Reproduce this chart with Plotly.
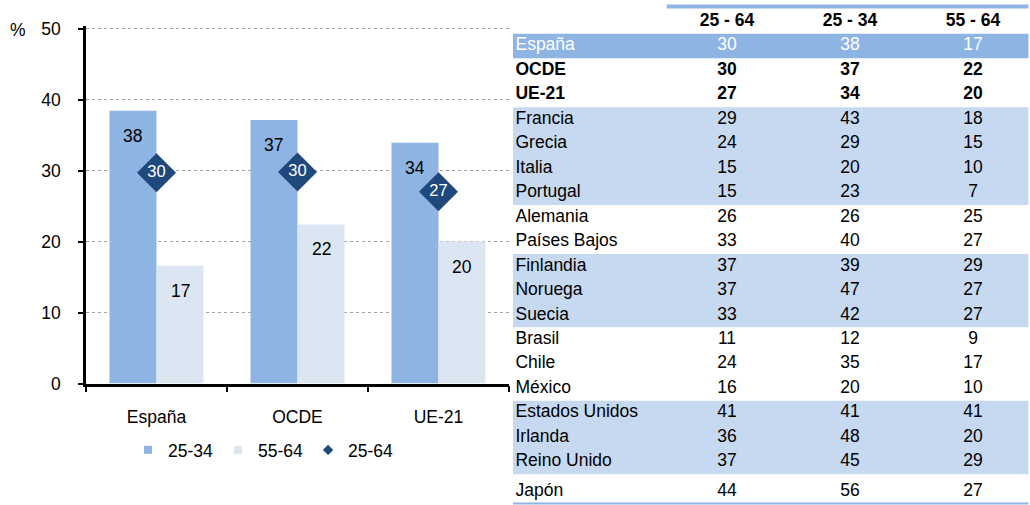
import plotly.graph_objects as go

# ---------------- data ----------------
chart_cats = ["España", "OCDE", "UE-21"]
bar_2534 = [38.4, 37.1, 33.9]
bar_5564 = [16.6, 22.4, 20.0]
dia_2564 = [29.7, 29.8, 27.0]

table_cols = ["25 - 64", "25 - 34", "55 - 64"]
countries = ["España", "OCDE", "UE-21", "Francia", "Grecia", "Italia", "Portugal",
             "Alemania", "Países Bajos", "Finlandia", "Noruega", "Suecia",
             "Brasil", "Chile", "México", "Estados Unidos", "Irlanda",
             "Reino Unido", "Japón"]
t_2564 = [30, 30, 27, 29, 24, 15, 15, 26, 33, 37, 37, 33, 11, 24, 16, 41, 36, 37, 44]
t_2534 = [38, 37, 34, 43, 29, 20, 23, 26, 40, 39, 47, 42, 12, 35, 20, 41, 48, 45, 56]
t_5564 = [17, 22, 20, 18, 15, 10, 7, 25, 27, 29, 27, 27, 9, 17, 10, 41, 20, 29, 27]

highlight_row = "España"
bold_rows = ["OCDE", "UE-21"]
shaded_groups = [["Francia", "Grecia", "Italia", "Portugal"],
                 ["Finlandia", "Noruega", "Suecia"],
                 ["Estados Unidos", "Irlanda", "Reino Unido"]]

# ---------------- style ----------------
W, H = 1030, 505
FONT = "Liberation Sans, Arial, sans-serif"
FS = 17.5
C_2534 = "#8DB4E2"
C_5564 = "#DCE6F2"
C_DIA = "#1F497D"
C_BAND = "#C6D9F1"
C_HI = "#8EB4E3"
Y_MAX = 50.3
PX_PER_UNIT = 7.1
Y_BOTTOM_PX = 383.5
Y_TOP_PX = Y_BOTTOM_PX - Y_MAX * PX_PER_UNIT

fig = go.Figure()

# bars
fig.add_trace(go.Bar(x=chart_cats, y=bar_2534, name="25-34", marker_color=C_2534,
                     marker_line_width=0, showlegend=False, xaxis="x", yaxis="y"))
fig.add_trace(go.Bar(x=chart_cats, y=bar_5564, name="55-64", marker_color=C_5564,
                     marker_line_width=0, showlegend=False, xaxis="x", yaxis="y"))
# diamonds
fig.add_trace(go.Scatter(x=chart_cats, y=dia_2564, name="25-64", mode="markers+text",
                         marker=dict(symbol="diamond", size=30, color=C_DIA),
                         text=[f"{v:.0f}" for v in dia_2564], textposition="middle center",
                         textfont=dict(color="white", size=16.5, family=FONT),
                         showlegend=False, xaxis="x", yaxis="y", cliponaxis=False))

# legend-only entries (small symbols)
fig.add_trace(go.Scatter(x=[None], y=[None], mode="markers", name="25-34",
                         marker=dict(symbol="square", size=8, color=C_2534)))
fig.add_trace(go.Scatter(x=[None], y=[None], mode="markers", name="55-64",
                         marker=dict(symbol="square", size=8, color=C_5564)))
fig.add_trace(go.Scatter(x=[None], y=[None], mode="markers", name="25-64",
                         marker=dict(symbol="diamond", size=8, color=C_DIA)))

annotations = []
bar_half = 141 * (1 - 0.333) / 4
for c, v in zip(chart_cats, bar_2534):
    annotations.append(dict(x=c, y=v, xref="x", yref="y", text=f"{v:.0f}", showarrow=False,
                            xshift=-bar_half, yshift=-25, font=dict(size=FS, color="black")))
for c, v in zip(chart_cats, bar_5564):
    annotations.append(dict(x=c, y=v, xref="x", yref="y", text=f"{v:.0f}", showarrow=False,
                            xshift=bar_half, yshift=-25, font=dict(size=FS, color="black")))
annotations.append(dict(x=18 / W, y=(H - 30) / H, xref="paper", yref="paper", text="%",
                        showarrow=False, xanchor="center", yanchor="middle",
                        font=dict(size=FS, color="black")))

# ---------------- table ----------------
row_pos = [i + (0.2 if c == "Japón" else 0) for i, c in enumerate(countries)]
col_x = [1, 2, 3]


def fmt(name, v):
    return f"<b>{v}</b>" if name in bold_rows else f"{v}"


def colors():
    return ["white" if c == highlight_row else "black" for c in countries]


# header
fig.add_trace(go.Scatter(x=col_x, y=[-1] * 3, mode="text",
                         text=[f"<b>{t}</b>" for t in table_cols], textposition="middle center",
                         textfont=dict(size=FS, color="black", family=FONT),
                         xaxis="x2", yaxis="y2", showlegend=False, cliponaxis=False))
# row labels
fig.add_trace(go.Scatter(x=[-0.72] * len(countries), y=row_pos, mode="text",
                         text=[fmt(c, c) for c in countries], textposition="middle right",
                         textfont=dict(size=FS, color=colors(), family=FONT),
                         xaxis="x2", yaxis="y2", showlegend=False, cliponaxis=False))
for xc, vals in zip(col_x, [t_2564, t_2534, t_5564]):
    fig.add_trace(go.Scatter(x=[xc] * len(vals), y=row_pos, mode="text",
                             text=[fmt(c, v) for c, v in zip(countries, vals)],
                             textposition="middle center",
                             textfont=dict(size=FS, color=colors(), family=FONT),
                             xaxis="x2", yaxis="y2", showlegend=False, cliponaxis=False))

shapes = []
# highlighted row
i_hi = countries.index(highlight_row)
shapes.append(dict(type="rect", xref="x2 domain", yref="y2", x0=0, x1=0.997,
                   y0=row_pos[i_hi] - 0.5, y1=row_pos[i_hi] + 0.5,
                   fillcolor=C_HI, line_width=0, layer="below"))
for grp in shaded_groups:
    idx = [countries.index(c) for c in grp]
    shapes.append(dict(type="rect", xref="x2 domain", yref="y2", x0=0, x1=0.997,
                       y0=row_pos[min(idx)] - 0.5, y1=row_pos[max(idx)] + 0.5,
                       fillcolor=C_BAND, line_width=0, layer="below"))
# header top line
shapes.append(dict(type="line", xref="x2", yref="y2", x0=0.51, x1=3.45, y0=-1.61, y1=-1.61,
                   line=dict(color=C_HI, width=4)))
# bottom line
shapes.append(dict(type="line", xref="x2 domain", yref="y2", x0=0, x1=0.997,
                   y0=row_pos[-1] + 0.5, y1=row_pos[-1] + 0.5,
                   line=dict(color=C_HI, width=2)))

fig.update_layout(
    width=W, height=H,
    margin=dict(l=0, r=0, t=0, b=0, pad=0, autoexpand=False),
    paper_bgcolor="white", plot_bgcolor="rgba(0,0,0,0)",
    font=dict(family=FONT, size=FS, color="black"),
    barmode="group", bargap=0.333, bargroupgap=0,
    xaxis=dict(domain=[86 / W, 509 / W], type="category", range=[-0.5, 2.5],
               showline=True, linecolor="black", linewidth=2.5, automargin=False,
               ticks="outside", tickson="boundaries", ticklen=6, tickwidth=2, tickcolor="black",
               showgrid=False, tickfont=dict(size=FS), ticklabelstandoff=16, anchor="y"),
    yaxis=dict(domain=[(H - Y_BOTTOM_PX) / H, (H - Y_TOP_PX) / H], range=[0, Y_MAX],
               tick0=0, dtick=10,
               showline=True, linecolor="black", linewidth=2.5, automargin=False,
               ticks="outside", ticklen=5, tickwidth=2, tickcolor="black",
               showgrid=True, gridcolor="#A3A3A3", griddash="dot", gridwidth=1.4,
               zeroline=False, tickfont=dict(size=FS), ticklabelstandoff=14, anchor="x"),
    xaxis2=dict(domain=[513 / W, 1.0], range=[-0.74, 3.463], visible=False,
                anchor="y2", fixedrange=True, automargin=False),
    yaxis2=dict(domain=[0, 1], range=[18.76, -1.88], visible=False,
                anchor="x2", fixedrange=True, automargin=False),
    legend=dict(orientation="h", x=128 / W, y=(H - 450) / H, xanchor="left", yanchor="middle",
                font=dict(size=FS), bgcolor="rgba(0,0,0,0)", itemwidth=30,
                traceorder="normal"),
    annotations=annotations,
    shapes=shapes,
)

fig.write_html("out.html", config={"displayModeBar": False},
               post_script="document.body.style.margin='0';document.body.style.overflow='hidden';")
